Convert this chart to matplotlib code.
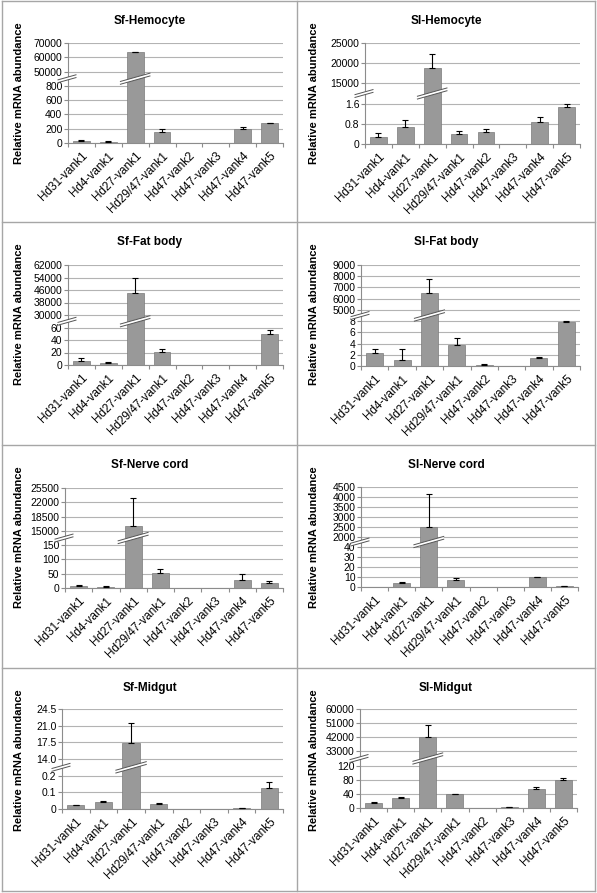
import numpy as np
import matplotlib.pyplot as plt
from matplotlib.patches import Polygon
from matplotlib.lines import Line2D
from matplotlib.ticker import NullLocator

plt.rcParams['font.family'] = ['Liberation Sans', 'DejaVu Sans']

genes = ["Hd31-vank1", "Hd4-vank1", "Hd27-vank1", "Hd29/47-vank1",
         "Hd47-vank2", "Hd47-vank3", "Hd47-vank4", "Hd47-vank5"]

# mean values and (upper) error bars
sf_hemo = [30, 20, 63600, 155, 0, 0, 195, 275]
sf_hemo_err = [8, 5, 250, 40, 0, 0, 35, 6]
sl_hemo = [0.29, 0.67, 18750, 0.40, 0.49, 0, 0.87, 1.47]
sl_hemo_err = [0.16, 0.29, 3500, 0.13, 0.10, 0, 0.18, 0.16]
sf_fat = [7, 3.7, 44100, 21.3, 0, 0, 0, 50]
sf_fat_err = [3.8, 0.6, 9400, 4.7, 0, 0, 0, 6]
sl_fat = [2.4, 1.07, 6480, 3.8, 0.18, 0, 1.37, 7.9]
sl_fat_err = [0.6, 1.93, 1310, 1.2, 0.12, 0, 0.23, 1.6]
sf_nerve = [5.8, 4.6, 16300, 51, 0, 0, 29, 19]
sf_nerve_err = [4, 1.2, 6700, 15, 0, 0, 19, 7]
sl_nerve = [0, 4, 2500, 7, 0, 0, 9.7, 1]
sl_nerve_err = [0, 1, 1650, 2.3, 0, 0, 0.6, 0.3]
sf_mid = [0.022, 0.040, 17.4, 0.028, 0, 0, 0.006, 0.124]
sf_mid_err = [0.002, 0.006, 4.1, 0.006, 0, 0, 0.002, 0.038]
sl_mid = [15, 27, 42000, 39, 0, 2, 53, 79]
sl_mid_err = [3, 3, 8100, 2, 0, 1, 7, 7]

# broken y axis: ticks below and above the break
sf_hemo_low, sf_hemo_high = ["0", "200", "400", "600", "800"], ["50000", "60000", "70000"]
sl_hemo_low, sl_hemo_high = ["0", "0.8", "1.6"], ["15000", "20000", "25000"]
sf_fat_low, sf_fat_high = ["0", "20", "40", "60"], ["30000", "38000", "46000", "54000", "62000"]
sl_fat_low, sl_fat_high = ["0", "2", "4", "6", "8"], ["5000", "6000", "7000", "8000", "9000"]
sf_nerve_low, sf_nerve_high = ["0", "50", "100", "150"], ["15000", "18500", "22000", "25500"]
sl_nerve_low, sl_nerve_high = ["0", "10", "20", "30", "40"], ["2000", "2500", "3000", "3500", "4000", "4500"]
sf_mid_low, sf_mid_high = ["0", "0.1", "0.2"], ["14.0", "17.5", "21.0", "24.5"]
sl_mid_low, sl_mid_high = ["0", "40", "80", "120"], ["33000", "42000", "51000", "60000"]

panels = [
    ("Sf-Hemocyte", sf_hemo, sf_hemo_err, sf_hemo_low, sf_hemo_high),
    ("Sl-Hemocyte", sl_hemo, sl_hemo_err, sl_hemo_low, sl_hemo_high),
    ("Sf-Fat body", sf_fat, sf_fat_err, sf_fat_low, sf_fat_high),
    ("Sl-Fat body", sl_fat, sl_fat_err, sl_fat_low, sl_fat_high),
    ("Sf-Nerve cord", sf_nerve, sf_nerve_err, sf_nerve_low, sf_nerve_high),
    ("Sl-Nerve cord", sl_nerve, sl_nerve_err, sl_nerve_low, sl_nerve_high),
    ("Sf-Midgut", sf_mid, sf_mid_err, sf_mid_low, sf_mid_high),
    ("Sl-Midgut", sl_mid, sl_mid_err, sl_mid_low, sl_mid_high),
]

W, H = 597, 893
fig = plt.figure(figsize=(W / 100, H / 100), dpi=100)

# plot boxes in pixels: left, right, top, bottom
boxes = [(68, 283, 43, 143), (365, 580, 43, 144),
         (68, 283, 265, 365), (361, 580, 265, 366),
         (65, 283, 488, 588), (361, 578, 487, 587),
         (62, 283, 709, 809), (360, 577, 709, 808)]
cell_x = [(2, 297), (297, 595)]
cell_y = [(1, 222), (222, 445), (445, 668), (668, 891)]

GRID = "#b3b3b3"
AX = "#8c8c8c"


def draw_break(ax, x0, x1, yb, w, h, s=0.28, t=1.4):
    # white slanted band with dark edges, in axes fraction
    xm = (x0 + x1) / 2
    def yy(x, off):
        return yb + (s * (x - xm) * w + off) / h
    pts = [(x0, yy(x0, -t)), (x1, yy(x1, -t)), (x1, yy(x1, t)), (x0, yy(x0, t))]
    ax.add_patch(Polygon(pts, closed=True, transform=ax.transAxes, facecolor="white",
                         edgecolor="none", zorder=5, clip_on=False))
    for off in (-t, t):
        ax.add_line(Line2D([x0, x1], [yy(x0, off), yy(x1, off)], transform=ax.transAxes,
                           color="#555555", lw=0.7, zorder=6, clip_on=False))


for i, (title, vals, errs, low, high) in enumerate(panels):
    l, r, t, b = boxes[i]
    ax = fig.add_axes([l / W, 1 - b / H, (r - l) / W, (b - t) / H])
    tick_vals = [float(v) for v in low + high]
    pos = np.arange(len(tick_vals), dtype=float)

    def fwd(y, tv=tick_vals, p=pos):
        return np.interp(y, tv, p)

    def inv(y, tv=tick_vals, p=pos):
        return np.interp(y, p, tv)

    ax.set_yscale("function", functions=(fwd, inv))
    x = np.arange(len(genes))
    ax.bar(x, vals, width=0.625, color="#999999", edgecolor="#7a7a7a", linewidth=0.5, zorder=2)
    vals_a = np.array(vals, dtype=float)
    errs_a = np.array(errs, dtype=float)
    m = errs_a > 0
    ax.errorbar(x[m], vals_a[m], yerr=[np.zeros(m.sum()), errs_a[m]], fmt="none",
                ecolor="black", elinewidth=0.8, capsize=2.5, capthick=0.8, zorder=3)

    ax.set_ylim(tick_vals[0], tick_vals[-1])
    ax.set_xlim(-0.5, len(genes) - 0.5)
    ax.set_yticks(tick_vals)
    ax.set_yticklabels(low + high, fontsize=7.5)
    ax.yaxis.set_minor_locator(NullLocator())
    ax.set_xticks(x)
    ax.set_xticklabels(genes, rotation=45, ha="right", rotation_mode="anchor", fontsize=8.5)
    ax.set_xticks(np.arange(-0.5, len(genes), 1), minor=True)
    ax.tick_params(axis="x", which="major", length=0, pad=5)
    ax.tick_params(axis="x", which="minor", length=3, direction="out", color=AX, width=0.8)
    ax.tick_params(axis="y", length=3, direction="out", color=AX, width=0.8, pad=1)
    ax.yaxis.grid(True, color=GRID, lw=0.8)
    ax.set_axisbelow(True)
    for sp in ("top", "right"):
        ax.spines[sp].set_visible(False)
    for sp in ("left", "bottom"):
        ax.spines[sp].set_color(AX)
        ax.spines[sp].set_linewidth(0.8)

    # break marks on the axis and across the tallest bar
    w, h = r - l, b - t
    yb = (len(low) - 0.5) / (len(tick_vals) - 1)
    draw_break(ax, -10 / w, 8 / w, yb, w, h)
    big = int(np.argmax(vals_a))
    draw_break(ax, (big - 0.05) / len(genes), (big + 1.05) / len(genes), yb, w, h)

    cx0, cx1 = cell_x[i % 2]
    cy0, cy1 = cell_y[i // 2]
    fig.text((cx0 + cx1) / 2 / W, 1 - (cy0 + 20) / H, title, ha="center", va="center",
             fontsize=8.5, fontweight="bold")
    fig.text((cx0 + 17) / W, 1 - (cy0 + 92) / H, "Relative mRNA abundance", ha="center",
             va="center", rotation=90, fontsize=8, fontweight="bold")

# table lines around the panels
for xx in (2, 297, 595):
    fig.add_artist(Line2D([xx / W, xx / W], [1 - 1 / H, 1 - 891 / H], transform=fig.transFigure,
                          color="#a6a6a6", lw=1))
for yy in (1, 222, 445, 668, 891):
    fig.add_artist(Line2D([2 / W, 595 / W], [1 - yy / H, 1 - yy / H], transform=fig.transFigure,
                          color="#a6a6a6", lw=1))

fig.savefig("out.png", dpi=100)
